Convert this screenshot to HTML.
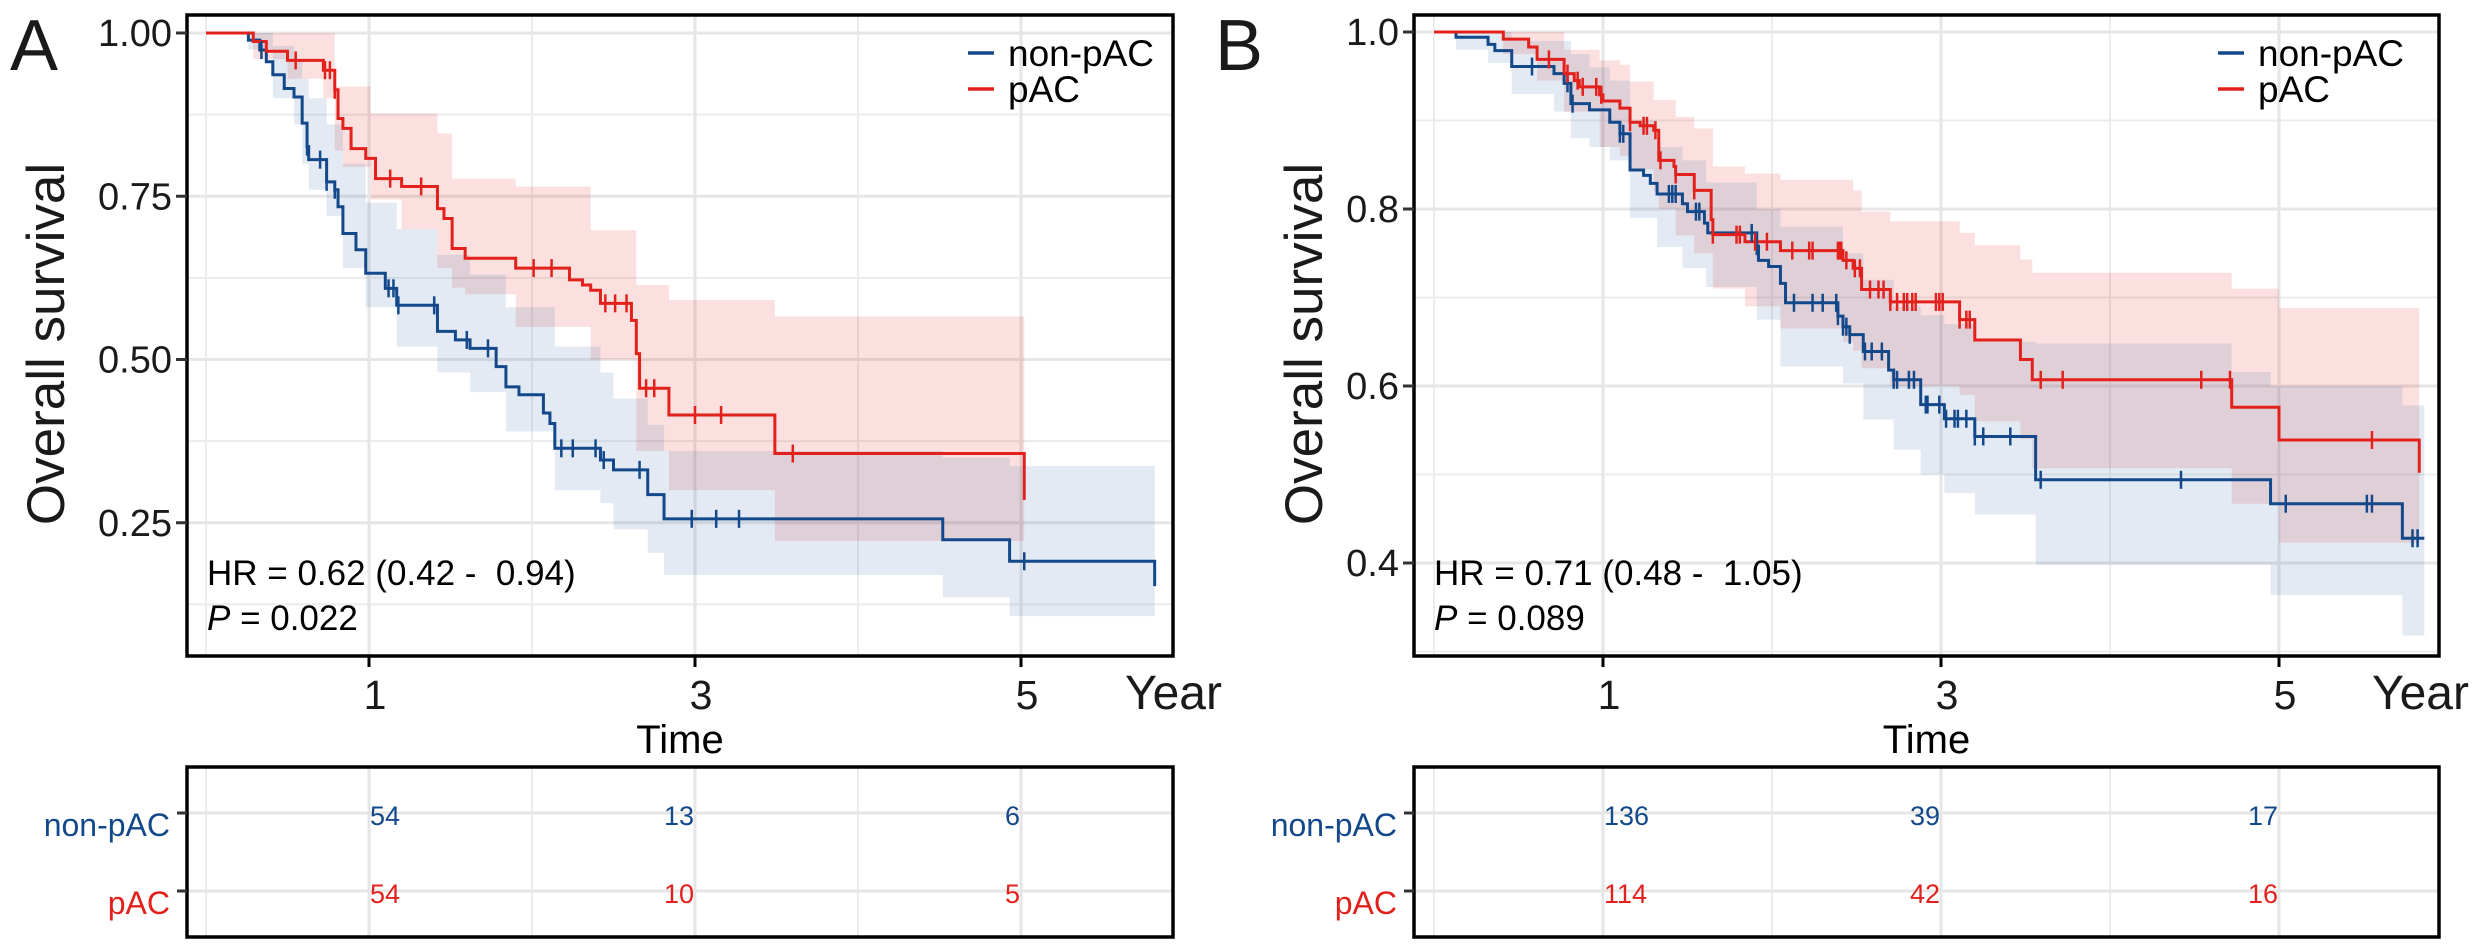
<!DOCTYPE html>
<html><head><meta charset="utf-8">
<style>
html,body{margin:0;padding:0;background:#fff;}
svg{display:block;font-family:"Liberation Sans",Arial,sans-serif;}
text{white-space:pre;}
</style></head>
<body>
<svg id="fig" width="2481" height="952" viewBox="0 0 2481 952" xmlns="http://www.w3.org/2000/svg"></svg>
<script>
// ---------- Panel A data ----------
const aRedSteps = [[0,1],[0.29,0.987],[0.37,0.972],[0.50,0.958],[0.72,0.943],[0.79,0.913],[0.81,0.869],[0.84,0.854],[0.89,0.823],[0.98,0.808],[1.04,0.777],[1.2,0.765],[1.42,0.731],[1.46,0.716],[1.51,0.670],[1.59,0.655],[1.90,0.640],[2.23,0.622],[2.31,0.614],[2.36,0.606],[2.42,0.586],[2.61,0.56],[2.64,0.509],[2.66,0.456],[2.84,0.415],[3.49,0.356],[5.02,0.285]];
const aRedEnd = 5.02;
const aRedCensor = [0.55,0.73,0.76,0.79,1.13,1.32,2.01,2.12,2.45,2.51,2.58,2.70,2.75,3.00,3.16,3.60];
const aBlueSteps = [[0,1],[0.26,0.989],[0.33,0.974],[0.37,0.956],[0.41,0.936],[0.48,0.915],[0.54,0.902],[0.59,0.862],[0.62,0.826],[0.63,0.806],[0.74,0.772],[0.79,0.760],[0.81,0.734],[0.84,0.693],[0.92,0.668],[0.98,0.632],[1.10,0.609],[1.17,0.583],[1.42,0.543],[1.53,0.530],[1.62,0.517],[1.78,0.489],[1.84,0.458],[1.92,0.446],[2.07,0.418],[2.11,0.402],[2.14,0.364],[2.42,0.346],[2.50,0.331],[2.71,0.293],[2.81,0.256],[4.52,0.224],[4.93,0.191],[5.82,0.153]];
const aBlueEnd = 5.82;
const aBlueCensor = [0.34,0.62,0.70,0.74,0.79,1.12,1.15,1.18,1.40,1.60,1.73,2.18,2.25,2.39,2.44,2.66,2.98,3.13,3.27,5.02];
const aRedBand = [[0,1,1],[0.29,0.96,1],[0.5,0.93,1],[0.72,0.90,1],[0.79,0.82,0.918],[0.84,0.795,0.918],[1.01,0.745,0.877],[1.2,0.70,0.877],[1.42,0.64,0.846],[1.51,0.61,0.777],[1.59,0.60,0.777],[1.90,0.55,0.765],[2.36,0.50,0.698],[2.64,0.36,0.614],[2.84,0.30,0.591],[3.49,0.222,0.566]];
const aBlueBand = [[0,1,1],[0.26,0.975,1],[0.41,0.90,0.98],[0.54,0.86,0.96],[0.59,0.80,0.93],[0.63,0.76,0.90],[0.74,0.72,0.86],[0.84,0.64,0.80],[0.98,0.58,0.74],[1.17,0.52,0.70],[1.42,0.48,0.66],[1.62,0.45,0.63],[1.84,0.39,0.58],[2.14,0.30,0.52],[2.42,0.28,0.48],[2.50,0.24,0.44],[2.71,0.204,0.40],[2.81,0.17,0.36],[4.52,0.136,0.35],[4.93,0.107,0.337]];
const aYTicks = [1.00,0.75,0.50,0.25];
const aYTickLabels = ["1.00","0.75","0.50","0.25"];
const aYMinor = [0.875,0.625,0.375,0.125];
const aRiskNon = ["54","13","6"];
const aRiskP = ["54","10","5"];
const aHR = "HR = 0.62 (0.42 -  0.94)";
const aP = " = 0.022";

// ---------- Panel B data ----------
const bRedSteps = [[0,1],[0.41,0.992],[0.56,0.983],[0.61,0.969],[0.77,0.953],[0.83,0.945],[0.86,0.938],[0.98,0.929],[1.0,0.922],[1.10,0.914],[1.16,0.898],[1.22,0.894],[1.30,0.889],[1.33,0.855],[1.42,0.848],[1.43,0.839],[1.54,0.821],[1.64,0.788],[1.65,0.771],[1.84,0.763],[2.05,0.753],[2.42,0.742],[2.48,0.733],[2.53,0.709],[2.70,0.695],[3.11,0.675],[3.20,0.652],[3.47,0.630],[3.54,0.607],[4.72,0.576],[5.0,0.539],[5.83,0.502]];
const bRedEnd = 5.83;
const bRedCensor = [0.68,0.79,0.85,0.88,0.96,0.99,1.16,1.24,1.26,1.31,1.34,1.43,1.54,1.65,1.79,1.81,1.90,1.97,2.12,2.22,2.24,2.39,2.40,2.41,2.44,2.49,2.52,2.58,2.63,2.66,2.70,2.74,2.78,2.80,2.83,2.85,2.97,2.99,3.01,3.11,3.15,3.17,3.59,3.72,4.54,4.71,5.55];
const bBlueSteps = [[0,1],[0.13,0.994],[0.32,0.986],[0.36,0.979],[0.46,0.961],[0.71,0.953],[0.77,0.942],[0.81,0.919],[0.92,0.912],[1.04,0.898],[1.10,0.885],[1.16,0.844],[1.24,0.838],[1.28,0.829],[1.32,0.817],[1.47,0.806],[1.50,0.797],[1.60,0.784],[1.62,0.773],[1.91,0.758],[1.92,0.742],[1.98,0.735],[2.05,0.716],[2.08,0.694],[2.39,0.679],[2.42,0.667],[2.46,0.658],[2.54,0.639],[2.69,0.618],[2.72,0.607],[2.88,0.579],[3.02,0.563],[3.20,0.543],[3.56,0.494],[4.95,0.467],[5.73,0.428]];
const bBlueEnd = 5.86;
const bBlueCensor = [0.58,0.79,0.82,1.10,1.12,1.39,1.41,1.43,1.55,1.57,1.88,1.91,2.13,2.24,2.30,2.38,2.39,2.42,2.44,2.46,2.55,2.59,2.65,2.72,2.74,2.81,2.84,2.91,2.92,2.99,3.03,3.08,3.10,3.15,3.20,3.25,3.41,3.59,4.42,5.04,5.52,5.55,5.79,5.82];
const bRedBand = [[0,1,1],[0.41,0.975,1],[0.61,0.945,1],[0.77,0.91,0.98],[0.98,0.87,0.968],[1.10,0.86,0.963],[1.16,0.845,0.944],[1.30,0.82,0.923],[1.33,0.80,0.923],[1.43,0.77,0.904],[1.54,0.75,0.891],[1.65,0.71,0.848],[1.84,0.69,0.84],[2.05,0.665,0.833],[2.42,0.65,0.833],[2.48,0.64,0.821],[2.53,0.62,0.797],[2.70,0.60,0.786],[3.11,0.59,0.773],[3.20,0.56,0.759],[3.47,0.54,0.743],[3.54,0.507,0.728],[4.72,0.467,0.71],[5.0,0.423,0.688]];
const bBlueBand = [[0,1,1],[0.13,0.98,1],[0.32,0.965,1],[0.46,0.93,0.99],[0.71,0.91,0.99],[0.81,0.88,0.975],[0.92,0.87,0.96],[1.04,0.855,0.945],[1.16,0.79,0.90],[1.32,0.757,0.87],[1.47,0.733,0.855],[1.61,0.712,0.83],[1.91,0.675,0.80],[2.05,0.622,0.78],[2.42,0.603,0.75],[2.54,0.562,0.72],[2.72,0.528,0.69],[2.88,0.50,0.68],[3.02,0.479,0.67],[3.20,0.455,0.65],[3.56,0.398,0.648],[4.72,0.398,0.616],[4.95,0.364,0.60],[5.73,0.318,0.578]];
const bYTicks = [1.0,0.8,0.6,0.4];
const bYTickLabels = ["1.0","0.8","0.6","0.4"];
const bYMinor = [0.9,0.7,0.5,0.3];
const bRiskNon = ["136","39","17"];
const bRiskP = ["114","42","16"];
const bHR = "HR = 0.71 (0.48 -  1.05)";
const bP = " = 0.089";

const xTicks = [1,3,5];
const xTickLabels = ["1","3","5"];
const xMinor = [0,2,4];

const BLUE = "#13498A", RED = "#E3211C";
const NS = "http://www.w3.org/2000/svg";
const svg = document.getElementById('fig');

function el(tag, attrs, parent, text){
  const e = document.createElementNS(NS, tag);
  for (const k in attrs) e.setAttribute(k, attrs[k]);
  if (text !== undefined) e.textContent = text;
  (parent || svg).appendChild(e);
  return e;
}

function stepPath(steps, endT, X, Y){
  let d = "M" + X(steps[0][0]) + "," + Y(steps[0][1]);
  for (let i = 1; i < steps.length; i++){
    d += " H" + X(steps[i][0]) + " V" + Y(steps[i][1]);
  }
  d += " H" + X(endT);
  return d;
}
function bandPath(band, endT, X, Y){
  let up = "M" + X(band[0][0]) + "," + Y(band[0][2]);
  for (let i = 1; i < band.length; i++) up += " H" + X(band[i][0]) + " V" + Y(band[i][2]);
  up += " H" + X(endT);
  let lo = " V" + Y(band[band.length-1][1]);
  for (let i = band.length-1; i >= 1; i--) lo += " H" + X(band[i][0]) + " V" + Y(band[i-1][1]);
  lo += " H" + X(band[0][0]) + " Z";
  return up + lo;
}
function survAt(steps, t){
  let v = steps[0][1];
  for (const s of steps){ if (s[0] <= t) v = s[1]; }
  return v;
}

function panel(cfg){
  const g = el('g', {});
  
  
  const X = t => cfg.x0 + cfg.px * t;
  const Y = v => cfg.y1 + (1 - v) * cfg.py;
  const L = cfg.left, R = cfg.right, T = 15, B = 656;

  const grid = el('g', {}, g);
  
  
  cfg.yMinor.forEach(v => el('line', {x1:L, x2:R, y1:Y(v), y2:Y(v), stroke:'#ececec', 'stroke-width':2}, grid));
  xMinor.concat([6]).forEach(t => { if (X(t) < R) el('line', {x1:X(t), x2:X(t), y1:T, y2:B, stroke:'#ececec', 'stroke-width':2}, grid); });
  cfg.yTicks.forEach(v => el('line', {x1:L, x2:R, y1:Y(v), y2:Y(v), stroke:'#e6e6e6', 'stroke-width':3}, grid));
  xTicks.forEach(t => el('line', {x1:X(t), x2:X(t), y1:T, y2:B, stroke:'#e6e6e6', 'stroke-width':3}, grid));

  const rb = el('path', {d: bandPath(cfg.redBand, cfg.redEnd, X, Y), fill: RED, 'fill-opacity': 0.14}, g);
  
  
  const bb = el('path', {d: bandPath(cfg.blueBand, cfg.blueEnd, X, Y), fill: '#3a6aa8', 'fill-opacity': 0.14}, g);
  
  

  const bl = el('path', {d: stepPath(cfg.blueSteps, cfg.blueEnd, X, Y), fill:'none', stroke: BLUE, 'stroke-width':3}, g);
  
  
  const rl = el('path', {d: stepPath(cfg.redSteps, cfg.redEnd, X, Y), fill:'none', stroke: RED, 'stroke-width':3}, g);
  
  

  cfg.blueCensor.forEach(t => {
    const m = el('line', {x1:X(t), x2:X(t), y1:Y(survAt(cfg.blueSteps,t))-9, y2:Y(survAt(cfg.blueSteps,t))+9, stroke:BLUE, 'stroke-width':2.5}, g);
    
    
  });
  cfg.redCensor.forEach(t => {
    const m = el('line', {x1:X(t), x2:X(t), y1:Y(survAt(cfg.redSteps,t))-9, y2:Y(survAt(cfg.redSteps,t))+9, stroke:RED, 'stroke-width':2.5}, g);
    
    
  });

  const fr = el('rect', {x:L, y:T, width:R-L, height:B-T, fill:'none', stroke:'#000', 'stroke-width':3.5}, g);
  
  

  cfg.yTicks.forEach((v, i) => {
    el('line', {x1:L-11, x2:L, y1:Y(v), y2:Y(v), stroke:'#333', 'stroke-width':3}, g);
    const tl = el('text', {x:L-15, y:Y(v)+13, 'font-size':38, 'text-anchor':'end', fill:'#1a1a1a'}, g, cfg.yTickLabels[i]);
    
    
  });
  xTicks.forEach((t, i) => {
    el('line', {x1:X(t), x2:X(t), y1:B, y2:B+11, stroke:'#000', 'stroke-width':3}, g);
    const tl = el('text', {x:X(t)+6, y:709, 'font-size':41, 'text-anchor':'middle', fill:'#1a1a1a'}, g, xTickLabels[i]);
    
    
  });
  const yr = el('text', {x:cfg.yearX, y:709, 'font-size':48, fill:'#1a1a1a'}, g, 'Year');
  
  
  const xt = el('text', {x:(L+R)/2, y:753, 'font-size':40, 'text-anchor':'middle', fill:'#000'}, g, 'Time');
  
  
  const yt = el('text', {x:0, y:0, 'font-size':53, 'text-anchor':'middle', fill:'#1a1a1a', transform:'translate(' + cfg.titleX + ',344) rotate(-90)'}, g, 'Overall survival');
  
  
  const pl = el('text', {x:cfg.letterX, y:70, 'font-size':72, fill:'#1a1a1a'}, g, cfg.letter);
  
  

  const hr = el('text', {x:L+20, y:585, 'font-size':35, fill:'#000'}, g, cfg.hr);
  
  
  const pt = el('text', {x:L+20, y:630, 'font-size':35, fill:'#000'}, g);
  
  
  el('tspan', {'font-style':'italic'}, pt, 'P');
  el('tspan', {}, pt, cfg.p);

  const lg = el('g', {}, g);
  
  
  [[BLUE,'non-pAC',53],[RED,'pAC',89]].forEach(e => {
    const le = el('g', {}, lg);
    
    
    el('line', {x1:cfg.legX, x2:cfg.legX+26, y1:e[2], y2:e[2], stroke:e[0], 'stroke-width':3.5}, le);
    el('text', {x:cfg.legX+40, y:e[2]+13, 'font-size':37, fill:'#000'}, le, e[1]);
  });

  const rt = el('g', {}, g);
  
  
  const RT = 767, RB = 937, rows = [813, 891];
  xMinor.concat([6]).forEach(t => { if (X(t) < R) el('line', {x1:X(t), x2:X(t), y1:RT, y2:RB, stroke:'#ececec', 'stroke-width':2}, rt); });
  xTicks.forEach(t => el('line', {x1:X(t), x2:X(t), y1:RT, y2:RB, stroke:'#e6e6e6', 'stroke-width':3}, rt));
  rows.forEach(y => el('line', {x1:L, x2:R, y1:y, y2:y, stroke:'#e6e6e6', 'stroke-width':3}, rt));
  el('rect', {x:L, y:RT, width:R-L, height:RB-RT, fill:'none', stroke:'#000', 'stroke-width':3.5}, rt);
  [[BLUE,'non-pAC',rows[0],cfg.riskNon],[RED,'pAC',rows[1],cfg.riskP]].forEach(r => {
    el('line', {x1:L-10, x2:L, y1:r[2], y2:r[2], stroke:'#333', 'stroke-width':3}, rt);
    const lb = el('text', {x:L-17, y:r[2]+23, 'font-size':32, 'text-anchor':'end', fill:r[0]}, rt, r[1]);
    
    
    r[3].forEach((val, i) => {
      const anchor = i === 0 ? 'start' : 'end';
      const n = el('text', {x:X(xTicks[i]) + (i === 0 ? 1 : -1), y:r[2]+12, 'font-size':27, 'text-anchor':anchor, fill:r[0]}, rt, val);
      
      
    });
  });
}

panel({name:'panel-a', letter:'A', letterX:10, left:187, right:1173, x0:206, px:163, y1:33, py:653,
  titleX:64, yearX:1125, legX:968,
  redSteps:aRedSteps, redEnd:aRedEnd, redCensor:aRedCensor, blueSteps:aBlueSteps, blueEnd:aBlueEnd, blueCensor:aBlueCensor,
  redBand:aRedBand, blueBand:aBlueBand, yTicks:aYTicks, yTickLabels:aYTickLabels, yMinor:aYMinor,
  riskNon:aRiskNon, riskP:aRiskP, hr:aHR, p:aP});
panel({name:'panel-b', letter:'B', letterX:1215, left:1414, right:2439, x0:1434, px:169, y1:32, py:885,
  titleX:1322, yearX:2372, legX:2218,
  redSteps:bRedSteps, redEnd:bRedEnd, redCensor:bRedCensor, blueSteps:bBlueSteps, blueEnd:bBlueEnd, blueCensor:bBlueCensor,
  redBand:bRedBand, blueBand:bBlueBand, yTicks:bYTicks, yTickLabels:bYTickLabels, yMinor:bYMinor,
  riskNon:bRiskNon, riskP:bRiskP, hr:bHR, p:bP});
</script>
</body></html>
